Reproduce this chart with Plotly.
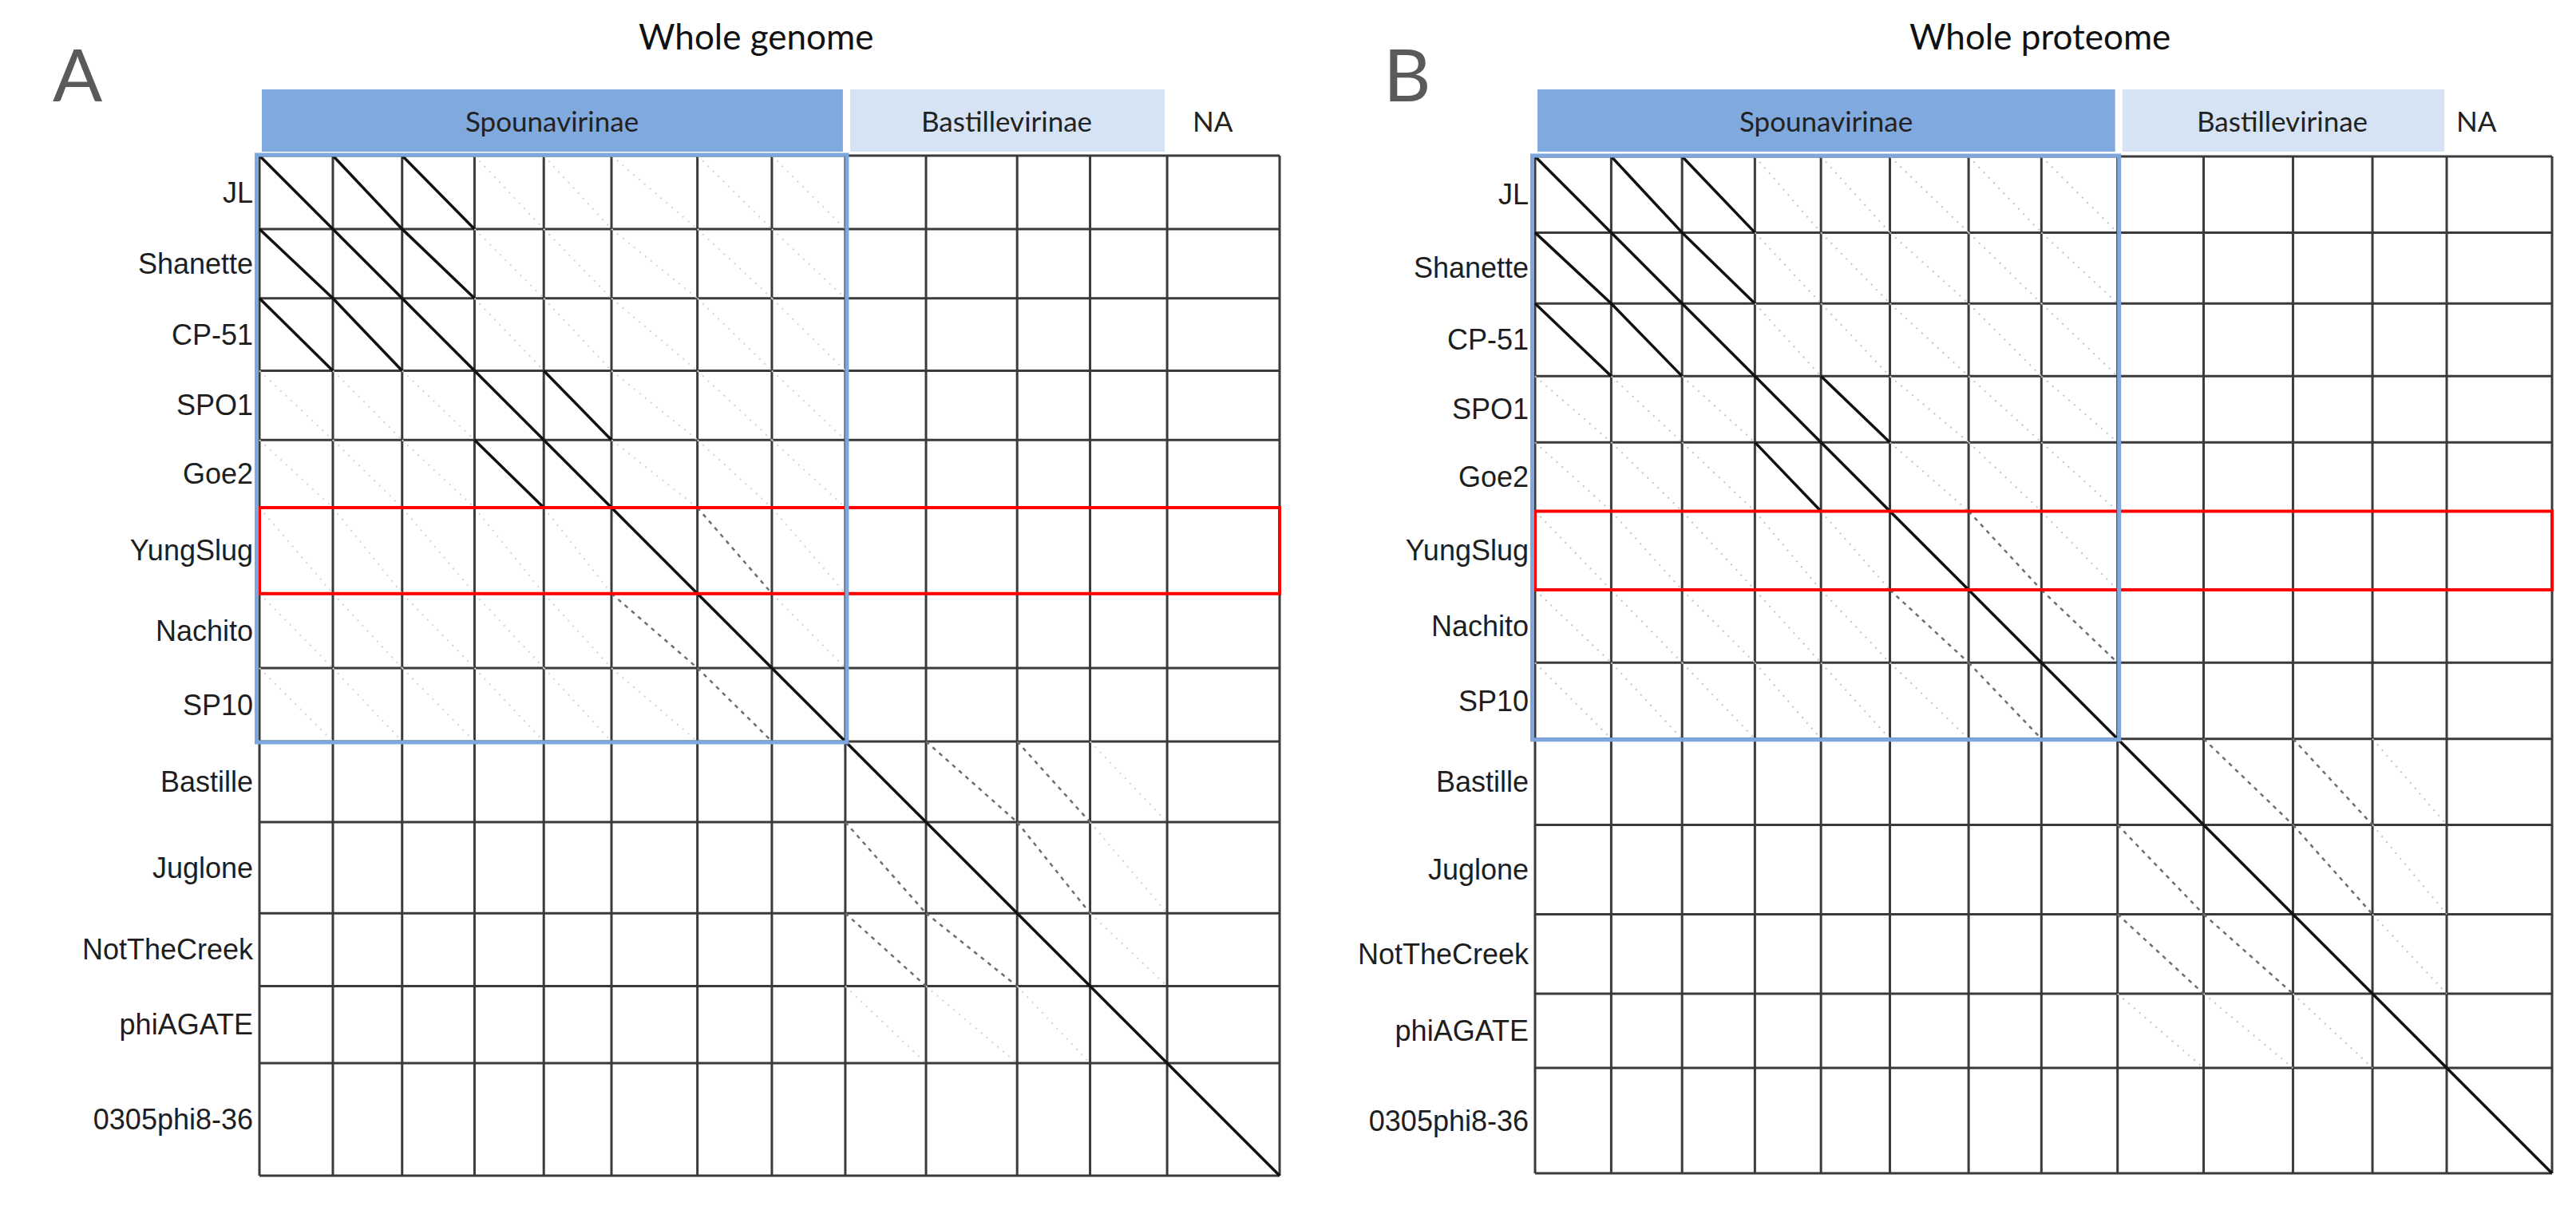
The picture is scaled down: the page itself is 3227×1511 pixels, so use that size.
import plotly.graph_objects as go
import numpy as np

W, H = 3227, 1511

# ---------------- data ----------------
phages = ["JL", "Shanette", "CP-51", "SPO1", "Goe2", "YungSlug", "Nachito", "SP10",
          "Bastille", "Juglone", "NotTheCreek", "phiAGATE", "0305phi8-36"]
genome_kb = [141, 133, 139, 133, 130, 165, 143, 141, 155, 175, 140, 148, 216]
proteome_kaa = [47.7, 44.4, 45.6, 41.4, 43.2, 49.3, 45.6, 47.7, 53.9, 56.0, 49.8, 46.5, 66.0]

groups = ["Spounavirinae", "Bastillevirinae", "NA"]
group_sizes = [8, 4, 1]
highlight = "YungSlug"

# similarity level: 0 none, 1 faint, 2 moderate, 3 strong
genome_sim = [
    [3, 3, 3, 1, 1, 1, 1, 1, 0, 0, 0, 0, 0],
    [3, 3, 3, 1, 1, 1, 1, 1, 0, 0, 0, 0, 0],
    [3, 3, 3, 1, 1, 1, 1, 1, 0, 0, 0, 0, 0],
    [1, 1, 1, 3, 3, 1, 1, 1, 0, 0, 0, 0, 0],
    [1, 1, 1, 3, 3, 1, 1, 1, 0, 0, 0, 0, 0],
    [1, 1, 1, 1, 1, 3, 2, 1, 0, 0, 0, 0, 0],
    [1, 1, 1, 1, 1, 2, 3, 1, 0, 0, 0, 0, 0],
    [1, 1, 1, 1, 1, 1, 2, 3, 0, 0, 0, 0, 0],
    [0, 0, 0, 0, 0, 0, 0, 0, 3, 2, 2, 1, 0],
    [0, 0, 0, 0, 0, 0, 0, 0, 2, 3, 2, 1, 0],
    [0, 0, 0, 0, 0, 0, 0, 0, 2, 2, 3, 1, 0],
    [0, 0, 0, 0, 0, 0, 0, 0, 1, 1, 1, 3, 0],
    [0, 0, 0, 0, 0, 0, 0, 0, 0, 0, 0, 0, 3],
]
proteome_sim = [
    [3, 3, 3, 1, 1, 1, 1, 1, 0, 0, 0, 0, 0],
    [3, 3, 3, 1, 1, 1, 1, 1, 0, 0, 0, 0, 0],
    [3, 3, 3, 1, 1, 1, 1, 1, 0, 0, 0, 0, 0],
    [1, 1, 1, 3, 3, 1, 1, 1, 0, 0, 0, 0, 0],
    [1, 1, 1, 3, 3, 1, 1, 1, 0, 0, 0, 0, 0],
    [1, 1, 1, 1, 1, 3, 2, 1, 0, 0, 0, 0, 0],
    [1, 1, 1, 1, 1, 2, 3, 2, 0, 0, 0, 0, 0],
    [1, 1, 1, 1, 1, 1, 2, 3, 0, 0, 0, 0, 0],
    [0, 0, 0, 0, 0, 0, 0, 0, 3, 2, 2, 1, 0],
    [0, 0, 0, 0, 0, 0, 0, 0, 2, 3, 2, 1, 0],
    [0, 0, 0, 0, 0, 0, 0, 0, 2, 2, 3, 1, 0],
    [0, 0, 0, 0, 0, 0, 0, 0, 1, 1, 1, 3, 0],
    [0, 0, 0, 0, 0, 0, 0, 0, 0, 0, 0, 0, 3],
]

# ---------------- layout / style ----------------
panels = [
    dict(title="Whole genome", letter="A", lengths=genome_kb, sim=genome_sim,
         left=325, top=195, side=1278, xa="x", ya="y",
         title_x=947, letter_x=97, na_x=1519, faint="#d2d2d2"),
    dict(title="Whole proteome", letter="B", lengths=proteome_kaa, sim=proteome_sim,
         left=1923, top=196, side=1274, xa="x2", ya="y2",
         title_x=2555, letter_x=1762, na_x=3102, faint="#c2c2c2"),
]
level_style = {
    1: dict(width=2, dash="2px,7px"),
    2: dict(color="#6e6e6e", width=2.5, dash="5px,6px"),
    3: dict(color="#111111", width=3.5, dash="solid"),
}
header_fill = ["#80A9DE", "#D6E3F5", None]
grid_color = "#3a3a3a"
blue = "#7EA7DD"
label_font = dict(family="Liberation Sans, Arial", size=36, color="#1e1e1e")
head_font = dict(family="Lato, Open Sans", size=35, color="#222222")

fig = go.Figure()
shapes = []
annotations = []
PADPX = 7

for k, p in enumerate(panels):
    L = np.array(p["lengths"], dtype=float)
    edges = np.concatenate([[0.0], np.cumsum(L)])
    total = edges[-1]
    scale = p["side"] / total          # px per unit
    pad = PADPX / scale
    xa, ya = p["xa"], p["ya"]
    axn = "" if k == 0 else str(k + 1)

    # grid lines
    gx, gy = [], []
    for e in edges:
        gx += [e, e, None, 0, total, None]
        gy += [0, total, None, e, e, None]
    fig.add_trace(go.Scatter(x=gx, y=gy, mode="lines", xaxis=xa, yaxis=ya,
                             line=dict(color=grid_color, width=3),
                             hoverinfo="skip", showlegend=False))

    # dot-plot diagonals by similarity level
    for lvl in (1, 2, 3):
        dx, dy = [], []
        for i in range(len(L)):
            for j in range(len(L)):
                if p["sim"][i][j] == lvl:
                    dx += [edges[j], edges[j + 1], None]
                    dy += [edges[i], edges[i + 1], None]
        if dx:
            st = dict(level_style[lvl])
            if lvl == 1:
                st["color"] = p["faint"]
            fig.add_trace(go.Scatter(x=dx, y=dy, mode="lines", xaxis=xa, yaxis=ya,
                                     line=st, hoverinfo="skip", showlegend=False))

    # axes
    x0d = (p["left"] - PADPX) / W
    x1d = (p["left"] + p["side"] + PADPX) / W
    y1d = 1 - (p["top"] - PADPX) / H
    y0d = 1 - (p["top"] + p["side"] + PADPX) / H
    centers = (edges[:-1] + edges[1:]) / 2
    fig.update_layout(**{
        "xaxis" + axn: dict(domain=[x0d, x1d], range=[-pad, total + pad],
                             showgrid=False, zeroline=False, showticklabels=False,
                             showline=False, ticks="", anchor=ya),
        "yaxis" + axn: dict(domain=[y0d, y1d], range=[total + pad, -pad],
                             showgrid=False, zeroline=False, showline=False, ticks="",
                             tickmode="array", tickvals=list(centers), ticktext=phages,
                             tickfont=label_font, anchor=xa),
    })

    # highlight row (red) and Spounavirinae block (blue)
    r = phages.index(highlight)
    shapes.append(dict(type="rect", xref=xa, yref=ya, x0=0, x1=total,
                       y0=edges[r], y1=edges[r + 1],
                       line=dict(color="#FF0000", width=4), layer="above"))
    nsp = group_sizes[0]
    shapes.append(dict(type="rect", xref=xa, yref=ya,
                       x0=-3.5 / scale, x1=edges[nsp] + 2 / scale,
                       y0=-1 / scale, y1=edges[nsp] + 1 / scale,
                       line=dict(color=blue, width=5), layer="above"))

    # subfamily header bar
    gstart = 0
    for g, n, fill in zip(groups, group_sizes, header_fill):
        a, b = edges[gstart], edges[gstart + n]
        if fill:
            shapes.append(dict(type="rect", xref=xa, yref="paper",
                               x0=a + (3 if gstart == 0 else 6) / scale,
                               x1=b - 3 / scale,
                               y0=1 - 190 / H, y1=1 - 112 / H,
                               line=dict(width=0), fillcolor=fill, layer="above"))
            annotations.append(dict(text=g, xref=xa, yref="paper", x=(a + b) / 2,
                                    y=1 - 151 / H, showarrow=False,
                                    xanchor="center", yanchor="middle", font=head_font))
        else:
            annotations.append(dict(text=g, xref="paper", yref="paper",
                                    x=p["na_x"] / W, y=1 - 151 / H, showarrow=False,
                                    xanchor="center", yanchor="middle", font=head_font))
        gstart += n

    annotations.append(dict(text=p["title"], xref="paper", yref="paper",
                            x=p["title_x"] / W, y=1 - 45 / H, showarrow=False,
                            xanchor="center", yanchor="middle",
                            font=dict(family="Lato, Open Sans", size=44, color="#111111")))
    annotations.append(dict(text=p["letter"], xref="paper", yref="paper",
                            x=p["letter_x"] / W, y=1 - 92 / H, showarrow=False,
                            xanchor="center", yanchor="middle",
                            font=dict(family="Lato, Open Sans", size=92, color="#5a5a5a")))

fig.update_layout(width=W, height=H, autosize=False,
                  margin=dict(l=0, r=0, t=0, b=0),
                  paper_bgcolor="white", plot_bgcolor="white",
                  shapes=shapes, annotations=annotations, showlegend=False)

fig.write_html("out.html", config={"displayModeBar": False},
               post_script="document.body.style.margin='0';document.body.style.overflow='hidden';")
